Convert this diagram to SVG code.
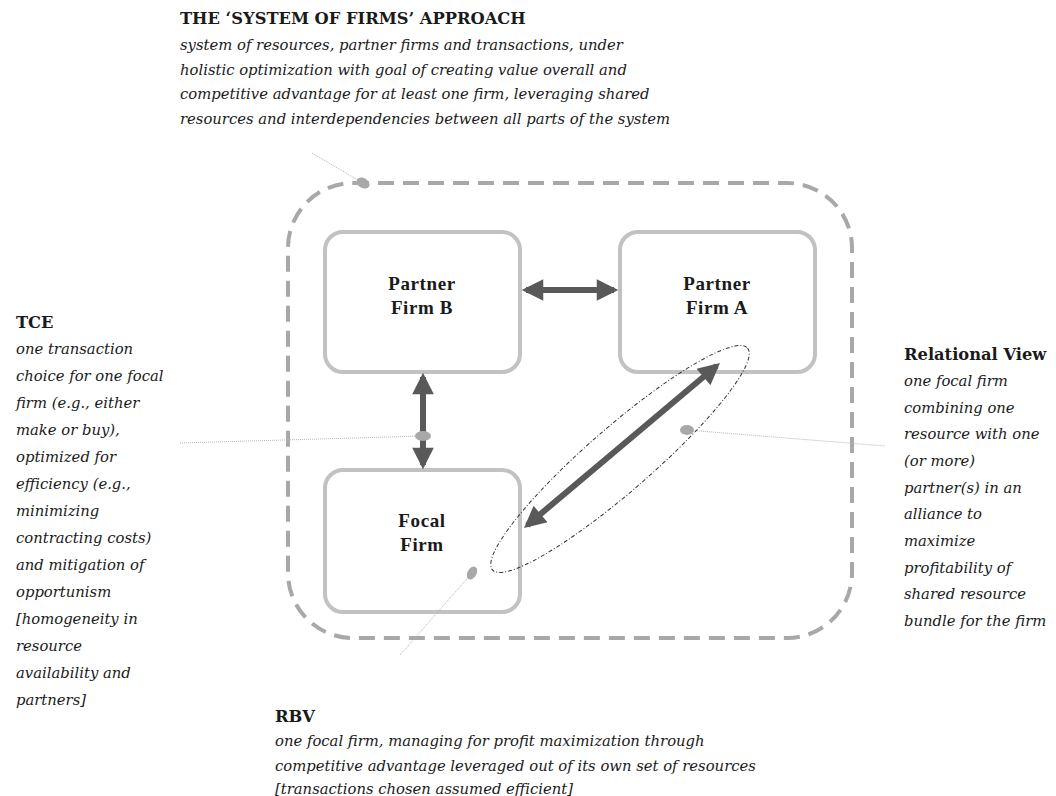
<svg xmlns="http://www.w3.org/2000/svg" width="1056" height="796" viewBox="0 0 1056 796">
<defs>
<style>
.h{font-family:"DejaVu Serif","Liberation Serif",serif;font-weight:bold;font-size:16.3px;fill:#1a1a1a}
.t{font-family:"DejaVu Serif","Liberation Serif",serif;font-style:italic;font-size:14.8px;fill:#1a1a1a}
.bx{fill:#fff;stroke:#c2c2c2;stroke-width:4}
.bt{font-family:"Liberation Serif",serif;font-weight:bold;font-size:19px;letter-spacing:0.6px;fill:#1a1a1a;text-anchor:middle}
.ar{stroke:#595959;stroke-width:6;fill:none}
.ld{stroke:#b5b5b5;stroke-width:1;stroke-dasharray:1 1;fill:none}
.dot{fill:#a8a8a8}
</style>
<marker id="ah" viewBox="0 0 10 10" refX="8" refY="5" markerWidth="3.8" markerHeight="3.6" orient="auto-start-reverse" markerUnits="strokeWidth">
<path d="M0,0 L10,5 L0,10 Z" fill="#595959"/>
</marker>
</defs>
<rect width="1056" height="796" fill="#fff"/>
<g id="system">
<rect x="288" y="183" width="564" height="455" rx="65" fill="none" stroke="#a8a8a8" stroke-width="4" stroke-dasharray="16 9"/>
</g>
<g id="partner-b">
<rect class="bx" x="325" y="232" width="195" height="140" rx="18"/>
<text class="bt" x="422" y="290">Partner</text>
<text class="bt" x="422" y="314">Firm B</text>
</g>
<g id="partner-a">
<rect class="bx" x="620" y="232" width="195" height="140" rx="18"/>
<text class="bt" x="717" y="290">Partner</text>
<text class="bt" x="717" y="314">Firm A</text>
</g>
<g id="focal">
<rect class="bx" x="325" y="470" width="195" height="142" rx="18"/>
<text class="bt" x="422" y="527">Focal</text>
<text class="bt" x="422" y="551">Firm</text>
</g>
<g id="connectors">
<line class="ar" x1="526" y1="290" x2="614" y2="290" marker-start="url(#ah)" marker-end="url(#ah)"/>
<line class="ar" x1="423" y1="377" x2="423" y2="465" marker-start="url(#ah)" marker-end="url(#ah)"/>
<line class="ar" x1="716.7" y1="365.8" x2="527.3" y2="525.2" marker-start="url(#ah)" marker-end="url(#ah)"/>
<line class="ld" x1="312" y1="153" x2="363" y2="183"/>
<line class="ld" x1="180" y1="443" x2="423" y2="436"/>
<line class="ld" x1="687" y1="430" x2="885" y2="446"/>
<line class="ld" x1="472" y1="573" x2="400" y2="655"/>
<ellipse class="dot" cx="363" cy="183" rx="7" ry="5" transform="rotate(30 363 183)"/>
<ellipse class="dot" cx="423" cy="436" rx="8" ry="5"/>
<ellipse class="dot" cx="687" cy="430" rx="7" ry="5"/>
<ellipse class="dot" cx="472" cy="573" rx="7" ry="4.5" transform="rotate(-60 472 573)"/>
</g>
<g id="relational-ellipse">
<ellipse cx="620" cy="459" rx="169" ry="32" transform="rotate(-41 620 459)" fill="none" stroke="#333" stroke-width="1" stroke-dasharray="4 2 1 2"/>
</g>
<g id="title-text">
<text class="h" x="180" y="24">THE ‘SYSTEM OF FIRMS’ APPROACH</text>
<text class="t" x="180" y="50">system of resources, partner firms and transactions, under</text>
<text class="t" x="180" y="75">holistic optimization with goal of creating value overall and</text>
<text class="t" x="180" y="99">competitive advantage for at least one firm, leveraging shared</text>
<text class="t" x="180" y="124">resources and interdependencies between all parts of the system</text>
</g>
<g id="tce-text">
<text class="h" x="16" y="328">TCE</text>
<text class="t" x="16" y="354">one transaction</text>
<text class="t" x="16" y="381">choice for one focal</text>
<text class="t" x="16" y="408">firm (e.g., either</text>
<text class="t" x="16" y="435">make or buy),</text>
<text class="t" x="16" y="462">optimized for</text>
<text class="t" x="16" y="489">efficiency (e.g.,</text>
<text class="t" x="16" y="516">minimizing</text>
<text class="t" x="16" y="543">contracting costs)</text>
<text class="t" x="16" y="570">and mitigation of</text>
<text class="t" x="16" y="597">opportunism</text>
<text class="t" x="16" y="624">[homogeneity in</text>
<text class="t" x="16" y="651">resource</text>
<text class="t" x="16" y="678">availability and</text>
<text class="t" x="16" y="705">partners]</text>
</g>
<g id="rv-text">
<text class="h" x="904" y="360">Relational View</text>
<text class="t" x="904" y="386">one focal firm</text>
<text class="t" x="904" y="413">combining one</text>
<text class="t" x="904" y="439">resource with one</text>
<text class="t" x="904" y="466">(or more)</text>
<text class="t" x="904" y="493">partner(s) in an</text>
<text class="t" x="904" y="519">alliance to</text>
<text class="t" x="904" y="546">maximize</text>
<text class="t" x="904" y="573">profitability of</text>
<text class="t" x="904" y="599">shared resource</text>
<text class="t" x="904" y="626">bundle for the firm</text>
</g>
<g id="rbv-text">
<text class="h" x="275" y="722">RBV</text>
<text class="t" x="275" y="746">one focal firm, managing for profit maximization through</text>
<text class="t" x="275" y="771">competitive advantage leveraged out of its own set of resources</text>
<text class="t" x="275" y="794">[transactions chosen assumed efficient]</text>
</g>
</svg>
